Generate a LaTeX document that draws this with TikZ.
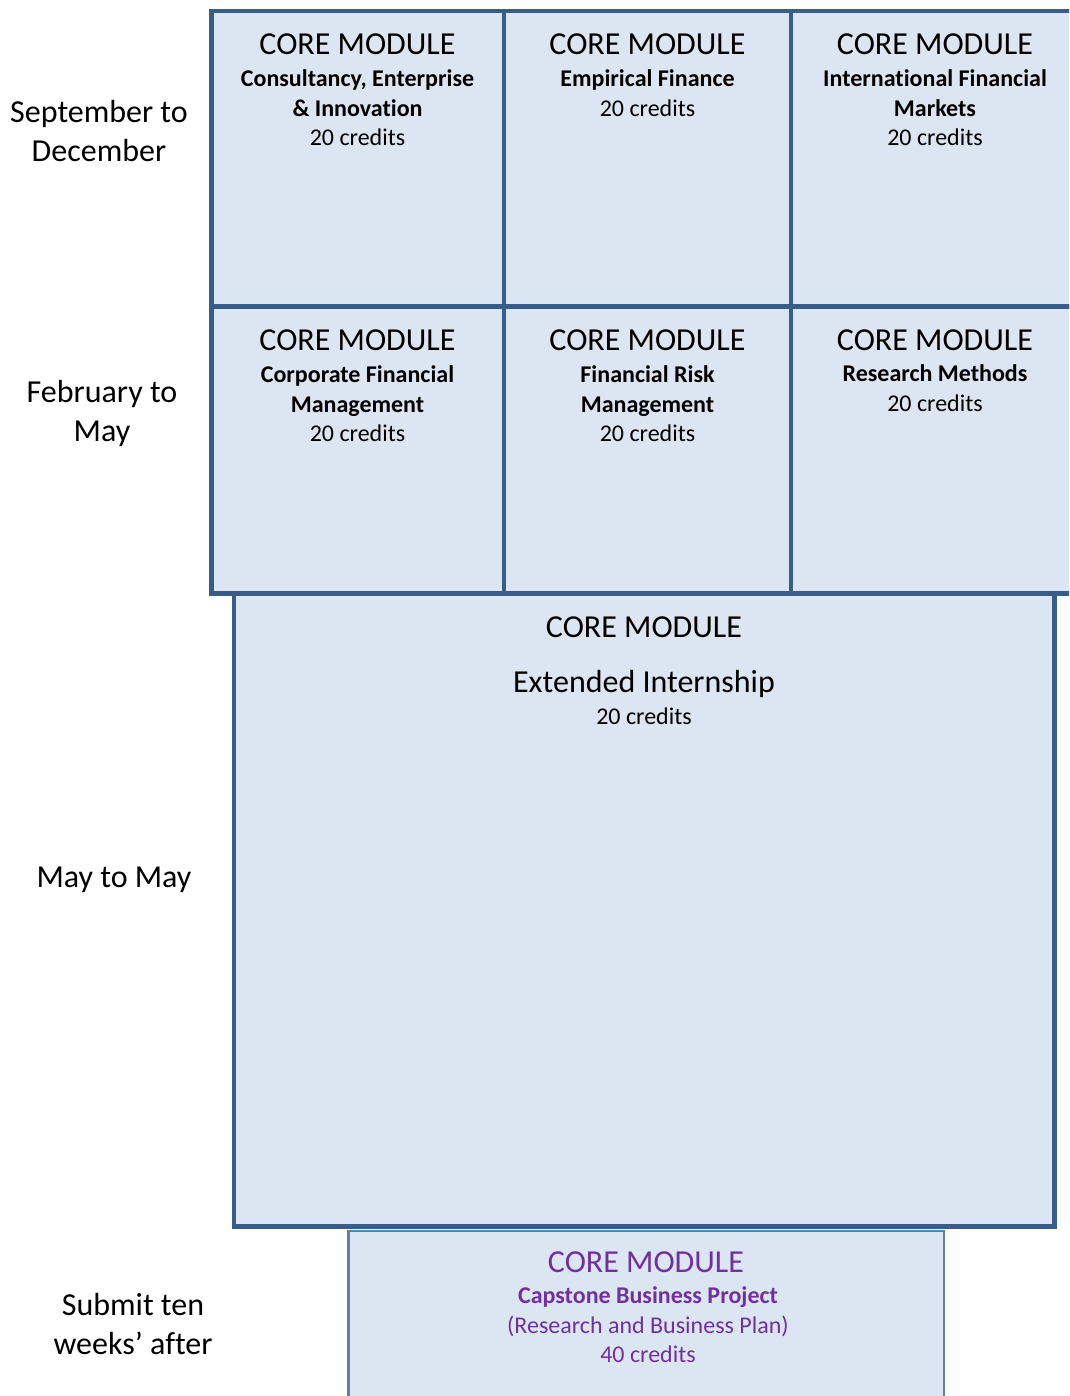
\documentclass[tikz,border=0pt]{standalone}
\usepackage{fontspec}
\setmainfont[Ligatures=NoCommon]{Carlito}
\usepackage{tikz}
\definecolor{cellfill}{HTML}{DCE6F2}
\definecolor{celledge}{HTML}{385D8A}
\definecolor{capedge}{HTML}{5A80AC}
\definecolor{capcol}{HTML}{7030A0}
\tikzset{cell/.style={fill=cellfill, draw=celledge, line width=4.5pt}, capcell/.style={fill=cellfill, draw=capedge, line width=2.5pt}}
\tikzset{head/.style={font=\fontsize{32}{39}\selectfont, inner sep=0pt}, sub/.style={font=\fontsize{24}{29.5}\selectfont, align=center, inner sep=0pt}, period/.style={font=\fontsize{32}{39}\selectfont, align=center, inner sep=0pt}}

\begin{document}
\begin{tikzpicture}[x=1pt,y=-1pt]
\useasboundingbox (0,0) rectangle (1069,1396);
\clip (0,0) rectangle (1069,1396);
\draw[cell] (211.5,11) rectangle (504,306.5);
\draw[cell] (504,11) rectangle (791,306.5);
\draw[cell] (791,11) rectangle (1079,306.5);
\draw[cell] (211.5,306.5) rectangle (504,593.5);
\draw[cell] (504,306.5) rectangle (791,593.5);
\draw[cell] (791,306.5) rectangle (1079,593.5);
\draw[cell] (234,593.5) rectangle (1054.5,1226.5);
\draw[capcell] (348.5,1231) rectangle (944,1420);
\node[head] (t1) at (357.5,44) {CORE MODULE};
\node[sub] (b1) at (357.5,108) {\textbf{Consultancy, Enterprise}\\\textbf{\& Innovation}\\20 credits};
\node[head] (t2) at (647.5,44) {CORE MODULE};
\node[sub] (b2) at (647.5,93) {\textbf{Empirical Finance}\\20 credits};
\node[head] (t3) at (935,44) {CORE MODULE};
\node[sub] (b3) at (935,108) {\textbf{International Financial}\\\textbf{Markets}\\20 credits};
\node[head] (t4) at (357.5,340) {CORE MODULE};
\node[sub] (b4) at (357.5,404) {\textbf{Corporate Financial}\\\textbf{Management}\\20 credits};
\node[head] (t5) at (647.5,340) {CORE MODULE};
\node[sub] (b5) at (647.5,404) {\textbf{Financial Risk}\\\textbf{Management}\\20 credits};
\node[head] (t6) at (935,340) {CORE MODULE};
\node[sub] (b6) at (935,388) {\textbf{Research Methods}\\20 credits};
\node[head] (t7) at (644,627) {CORE MODULE};
\node[head] (n7) at (644,684) {Extended Internship};
\node[sub] (b7) at (644,716) {20 credits};
\node[head, text=capcol] (t8) at (646,1262) {CORE MODULE};
\node[sub, text=capcol] (b8) at (648,1325) {\textbf{Capstone Business Project}\\(Research and Business Plan)\\40 credits};
\node[period] (p1) at (99,131) {September to\\December};
\node[period] (p2) at (102,413) {February to\\May};
\node[period] (p3) at (114,880) {May to May};
\node[period] (p4) at (133,1324) {Submit ten\\weeks’ after};
\end{tikzpicture}
\end{document}
